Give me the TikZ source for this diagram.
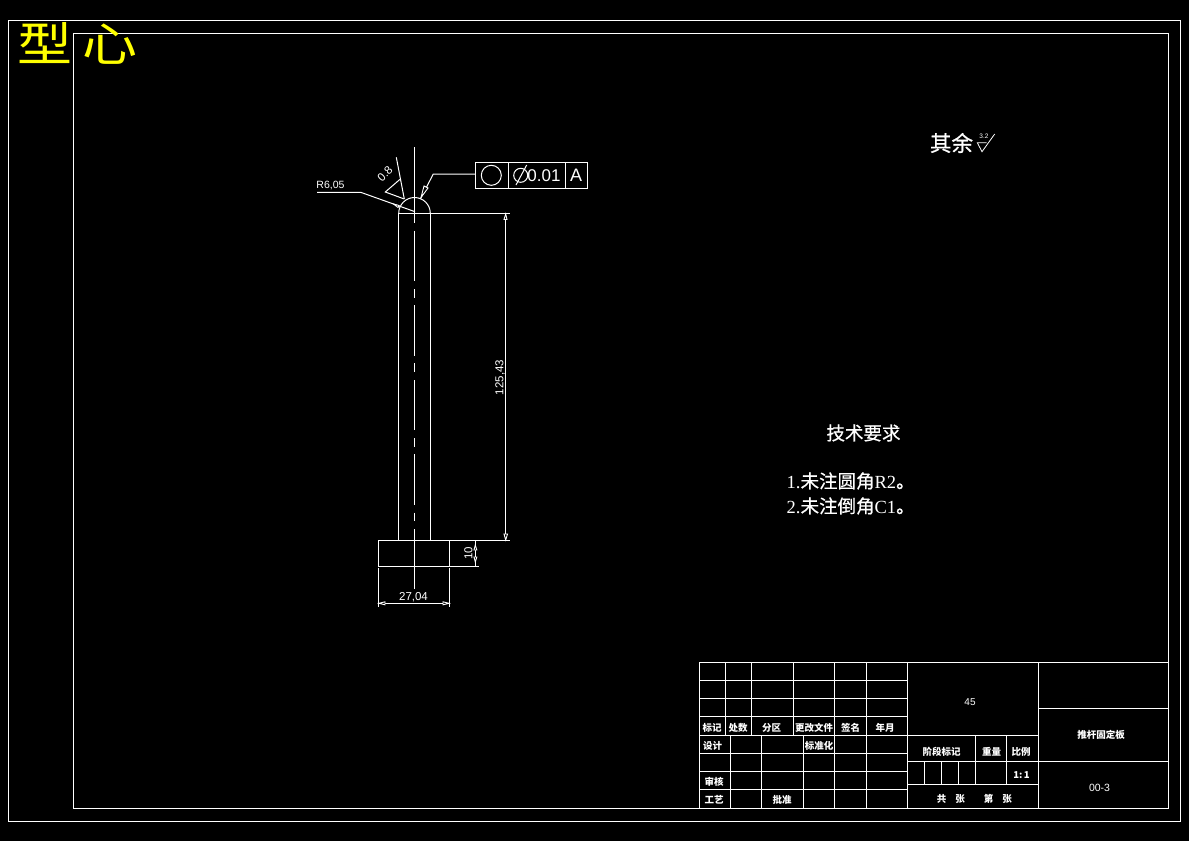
\documentclass[tikz,border=0pt]{standalone}
\usepackage{fontspec}
\setmainfont{Liberation Serif}
\setsansfont{Liberation Sans}
\newfontfamily\cjk{Noto Sans CJK SC}
\newfontfamily\cjkm[FakeBold=0.6]{Noto Sans CJK SC}
\newfontfamily\cjkbig[LetterSpace=18]{Noto Sans CJK SC}
\definecolor{cadyellow}{RGB}{255,255,0}
\tikzset{
  cadline/.style={draw=white,line width=1pt,line cap=butt},
  titletxt/.style={text=white,inner sep=0pt,font=\cjk\bfseries\fontsize{9.5}{10}\selectfont},
  dimtxt/.style={text=white,inner sep=0pt,font=\sffamily\fontsize{11.5}{12}\selectfont},
  bodytxt/.style={text=white,inner sep=0pt,anchor=west,font=\fontsize{18.5}{20}\selectfont},
  tip/.style={draw=white,line width=0.9pt,fill=black}
}
\begin{document}
\begin{tikzpicture}[x=1pt,y=-1pt]
\useasboundingbox (0,0) rectangle (1189,841);
\fill[black] (0,0) rectangle (1189,841);
% frames
\draw[cadline] (8.3,20.3) rectangle (1180.3,821.3);
\draw[cadline] (73.3,33.3) rectangle (1168.3,808.3);
% heading
\node[text=cadyellow,inner sep=0pt,yscale=0.85,font=\cjkbig\fontsize{55}{58}\selectfont] (head) at (77.5,43.5) {型心};
% part outline
\draw[cadline] (398.7,213.3) -- (398.7,540.3);
\draw[cadline] (430.3,213.3) -- (430.3,540.3);
\draw[cadline] (398.7,213.3) -- (510,213.3);
\draw[cadline] (398.7,213.3) arc[start angle=180,end angle=360,radius=15.8];
\draw[cadline] (378.3,540.3) rectangle (449.3,566.3);
\draw[cadline] (449.3,540.3) -- (510,540.3);
\draw[cadline] (449.3,566.3) -- (479,566.3);
% centre line
\foreach \a/\b in {147/223,230.7/281,289.3/298.3,305/355.7,363.3/371.7,380/430,438.3/446.7,454/505,512.7/520.7,529.3/589}
  \draw[cadline] (414.3,\a) -- (414.3,\b);
% dim 125,43
\draw[cadline] (505.7,213.3) -- (505.7,540.3);
\draw[tip] (504,219.5) -- (505.7,214) -- (507,219.5) -- cycle;
\draw[tip] (504,534) -- (505.7,540) -- (507.5,534) -- cycle;
\node[dimtxt,rotate=90] (d1) at (500,377.5) {125,43};
% dim 10
\draw[cadline] (475.3,540.3) -- (475.3,566.3);
\draw[tip] (474,550) -- (475.3,545) -- (476.8,550) -- cycle;
\draw[tip] (474,557) -- (475.3,562) -- (476.8,557) -- cycle;
\node[dimtxt,rotate=90] (d2) at (468.5,553) {10};
% dim 27,04
\draw[cadline] (378.3,568) -- (378.3,607);
\draw[cadline] (449.3,568) -- (449.3,607);
\draw[cadline] (378.3,603.3) -- (449.3,603.3);
\draw[tip] (379,603.3) -- (385,601.8) -- (385,604.8) -- cycle;
\draw[tip] (449,603.3) -- (443,601.8) -- (443,604.8) -- cycle;
\node[dimtxt] (d3) at (413.5,597) {27,04};
% R leader
\draw[cadline] (317,192.3) -- (360.7,192.3) -- (415,211.7);
\draw[tip] (393.5,204) -- (399,205.5) -- (398,207.5) -- cycle;
\node[dimtxt,font=\sffamily\fontsize{10.5}{11}\selectfont] (r1) at (330.5,186) {R6,05};
% roughness
\draw[cadline] (396.3,157.3) -- (404.3,199);
\draw[cadline] (400,179.3) -- (385.3,192) -- (404.3,199);
\node[dimtxt,rotate=45] (r2) at (385,174) {0.8};
% tolerance frame
\draw[cadline] (475.3,162.3) rectangle (587.3,188.7);
\draw[cadline] (508.3,162.3) -- (508.3,188.7);
\draw[cadline] (565.7,162.3) -- (565.7,188.7);
\draw[cadline] (491.3,175.3) circle[radius=10];
\draw[cadline] (520.7,175.3) circle[radius=7];
\draw[cadline] (516,185) -- (526.7,165);
\node[dimtxt,font=\sffamily\fontsize{17}{18}\selectfont] (t1) at (544,175.5) {0.01};
\node[dimtxt,font=\sffamily\fontsize{18}{20}\selectfont] (t2) at (576,175.5) {A};
\draw[cadline] (475.3,174) -- (433.3,174) -- (420.7,198.3);
\draw[tip] (421,197.5) -- (424,186) -- (428,188) -- cycle;
% other note
\node[text=white,inner sep=0pt,font=\cjkm\fontsize{21.5}{23}\selectfont] (qy) at (951.5,143) {其余};
\draw[cadline,line width=0.8pt] (986.7,142.7) -- (977.3,142.7) -- (982,151.7) -- (994.7,134);
\node[dimtxt,font=\sffamily\fontsize{6.5}{7}\selectfont] (qr) at (984,136.5) {3.2};
% tech notes
\node[text=white,inner sep=0pt,font=\cjkm\fontsize{18.5}{20}\selectfont] (tr) at (863.5,433) {技术要求};
\node[bodytxt] (n1) at (786.5,481) {1.{\cjkm 未注圆角}R2{\cjkm 。}};
\node[bodytxt] (n2) at (786.5,506) {2.{\cjkm 未注倒角}C1{\cjkm 。}};
% title block grid
\draw[cadline] (699.3,662.3) rectangle (1168.3,808.3);
\foreach \y in {680.3,698.3,716.3,735.3,753.3,771.3,789.3}
  \draw[cadline] (699.3,\y) -- (907.3,\y);
\foreach \x in {725.3,751.3,793.3} \draw[cadline] (\x,662.3) -- (\x,735.3);
\foreach \x in {834.3,866.3} \draw[cadline] (\x,662.3) -- (\x,808.3);
\foreach \x in {730.3,761.3,803.3} \draw[cadline] (\x,735.3) -- (\x,808.3);
\draw[cadline] (907.3,662.3) -- (907.3,808.3);
\draw[cadline] (1038.3,662.3) -- (1038.3,808.3);
\foreach \y in {735.3,761.3,784.3} \draw[cadline] (907.3,\y) -- (1038.3,\y);
\foreach \y in {708.3,761.3} \draw[cadline] (1038.3,\y) -- (1168.3,\y);
\foreach \x in {975.3,1006.3} \draw[cadline] (\x,735.3) -- (\x,784.3);
\foreach \x in {924.3,941.3,958.3} \draw[cadline] (\x,761.3) -- (\x,784.3);
% title block text
\node[titletxt] (a1) at (712,728) {标记};
\node[titletxt] (a2) at (738,728) {处数};
\node[titletxt] (a3) at (771.5,728) {分区};
\node[titletxt] (a4) at (814,728) {更改文件};
\node[titletxt] (a5) at (850.5,728) {签名};
\node[titletxt] (a6) at (885,728) {年月};
\node[titletxt] (b1) at (712.5,746) {设计};
\node[titletxt] (b2) at (819,746) {标准化};
\node[titletxt] (b3) at (714,782) {审核};
\node[titletxt] (b4) at (714,800) {工艺};
\node[titletxt] (b5) at (782,800) {批准};
\node[titletxt] (c1) at (941.5,752) {阶段标记};
\node[titletxt] (c2) at (991.5,752) {重量};
\node[titletxt] (c3) at (1021,752) {比例};
\node[titletxt] (c4) at (1021.5,775) {1:\,1};
\node[titletxt] (c5a) at (941.5,798.5) {共};
\node[titletxt] (c5b) at (960,798.5) {张};
\node[titletxt] (c5c) at (988.5,798.5) {第};
\node[titletxt] (c5d) at (1007,798.5) {张};
\node[dimtxt,font=\sffamily\fontsize{10}{11}\selectfont] (e1) at (970,702.5) {45};
\node[titletxt] (e2) at (1101,735) {推杆固定板};
\node[dimtxt,font=\sffamily\fontsize{10.5}{11}\selectfont] (e3) at (1099.5,788) {00-3};
\end{tikzpicture}
\end{document}
